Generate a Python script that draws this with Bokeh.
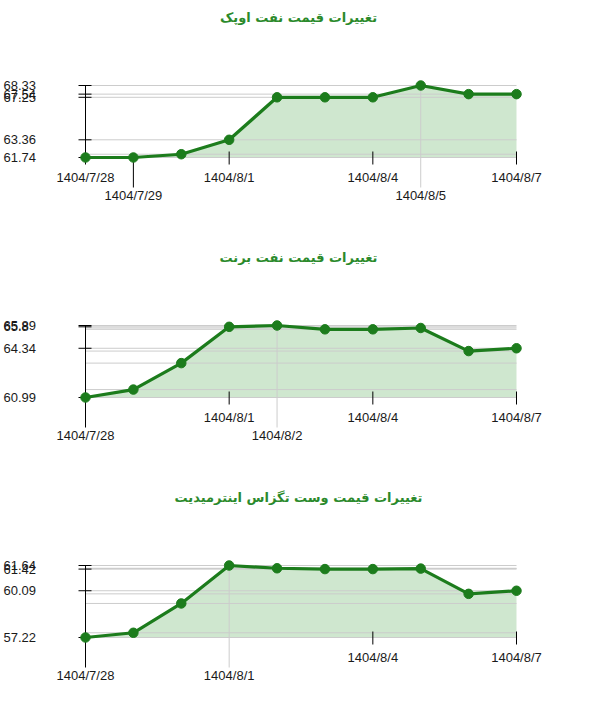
from bokeh.plotting import figure
from bokeh.layouts import column
from bokeh.models import Range1d
from bokeh.core.properties import value
from bokeh.embed import file_html
from bokeh.resources import INLINE

# ---------------- data ----------------
dates = ["1404/7/28", "1404/7/29", "1404/7/30", "1404/8/1", "1404/8/2",
         "1404/8/3", "1404/8/4", "1404/8/5", "1404/8/6", "1404/8/7"]

opec_prices = [61.74, 61.74, 62.04, 63.36, 67.25, 67.25, 67.25, 68.33, 67.54, 67.54]
brent_prices = [60.99, 61.53, 63.33, 65.80, 65.89, 65.63, 65.63, 65.72, 64.15, 64.34]
wti_prices = [57.22, 57.51, 59.31, 61.64, 61.47, 61.42, 61.42, 61.45, 59.90, 60.09]

opec_ticks = [61.74, 63.36, 67.25, 67.54, 68.33]
brent_ticks = [60.99, 64.34, 65.8, 65.89]
wti_ticks = [57.22, 60.09, 61.42, 61.64]

regular_ticks = [0, 3, 6, 9]

titles = ["تغییرات قیمت نفت اوپک",
          "تغییرات قیمت نفت برنت",
          "تغییرات قیمت وست تگزاس اینترمیدیت"]

# ---------------- style ----------------
W = 600
FX0, FX1 = 85, 516         # screen x of first / last point
FY_TOP, FY_BASE = 85, 157  # screen y of max / min value
GREEN = "#1c7c1c"
TITLE_GREEN = "#2b8a2b"
GRID = "#cccccc"
LABEL_FONT = value("Liberation Sans")
TITLE_FONT = value("DejaVu Sans")


def panel(title, prices, ticks, H):
    n = len(prices)
    xs = list(range(n))
    lo, hi = min(prices), max(prices)
    ppx = (FX1 - FX0) / (n - 1)
    ppy = (FY_BASE - FY_TOP) / (hi - lo)
    dx, dy = 1.0 / ppx, 1.0 / ppy
    xr = Range1d(-FX0 * dx, (n - 1) + (W - FX1) * dx)
    yr = Range1d(lo - (H - FY_BASE) * dy, hi + FY_TOP * dy)

    p = figure(width=W, height=H, x_range=xr, y_range=yr,
               output_backend="svg", toolbar_location=None,
               x_axis_location=None, y_axis_location=None,
               min_border=0, outline_line_color=None)
    p.grid.visible = False
    p.background_fill_color = "white"
    p.border_fill_color = "white"

    imax = prices.index(hi)
    imin = n - 1 - prices[::-1].index(lo)
    marks = {imin, imax}
    reg = [i for i in regular_ticks if i not in marks]

    # area
    p.varea(x=xs, y1=[lo] * n, y2=prices, fill_color="#008000", fill_alpha=0.19)

    # horizontal gridlines at each distinct value
    vals = sorted(set(prices))
    p.segment(x0=[0] * len(vals), y0=vals, x1=[n - 1] * len(vals), y1=vals,
              line_color=GRID, line_width=1)

    # max marker line (gray) and min marker line (black)
    p.segment(x0=[imax], y0=[hi], x1=[imax], y1=[lo - 30 * dy],
              line_color=GRID, line_width=1)
    p.segment(x0=[imin], y0=[lo], x1=[imin], y1=[lo - 30 * dy],
              line_color="black", line_width=1)

    # regular x ticks
    p.segment(x0=reg, y0=[lo + 6 * dy] * len(reg), x1=reg, y1=[lo - 7 * dy] * len(reg),
              line_color="black", line_width=1)

    # y axis line and ticks
    p.segment(x0=[0], y0=[lo], x1=[0], y1=[hi], line_color="black", line_width=1)
    p.segment(x0=[-7 * dx] * len(ticks), y0=ticks, x1=[6 * dx] * len(ticks), y1=ticks,
              line_color="black", line_width=1)

    # series
    p.line(xs, prices, line_color=GREEN, line_width=3.2)
    p.scatter(xs, prices, size=9.5, fill_color=GREEN, line_color=GREEN)

    # y labels
    p.text(x=[xr.start] * len(ticks), y=ticks, text=[f"{v:g}" for v in ticks],
           text_font=LABEL_FONT, text_font_size="13px", text_color="#1a1a1a",
           text_align="left", text_baseline="alphabetic", x_offset=3)

    # x labels, row 1 (regular) and row 2 (min / max)
    p.text(x=reg, y=[lo] * len(reg), text=[dates[i] for i in reg],
           text_font=LABEL_FONT, text_font_size="13px", text_color="#1a1a1a",
           text_align="center", text_baseline="middle", y_offset=19.5)
    m = sorted(marks)
    p.text(x=m, y=[lo] * len(m), text=[dates[i] for i in m],
           text_font=LABEL_FONT, text_font_size="13px", text_color="#1a1a1a",
           text_align="center", text_baseline="middle", y_offset=37.5)

    # title
    p.text(x=[(xr.start + xr.end) / 2 - 2 * dx], y=[yr.end], text=[title],
           text_font=TITLE_FONT, text_font_size="13px", text_font_style="bold",
           text_color=TITLE_GREEN, text_align="center", text_baseline="middle",
           y_offset=17)
    return p


p1 = panel(titles[0], opec_prices, opec_ticks, 240)
p2 = panel(titles[1], brent_prices, brent_ticks, 240)
p3 = panel(titles[2], wti_prices, wti_ticks, 236)

layout = column(p1, p2, p3, spacing=0)
open("out.html", "w").write(file_html(layout, INLINE))
